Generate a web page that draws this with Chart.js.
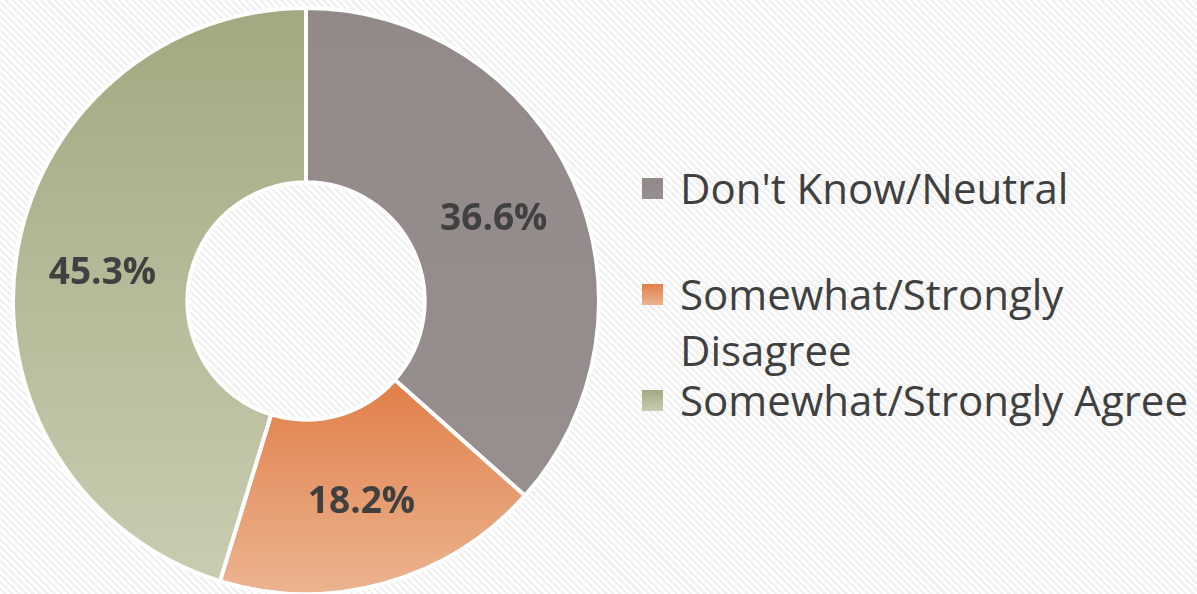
<!DOCTYPE html>
<html>
<head>
<meta charset="utf-8">
<script src="https://cdn.jsdelivr.net/npm/chart.js@4.4.1/dist/chart.umd.min.js"></script>
<style>
  html, body {
    margin: 0;
    padding: 0;
    width: 1197px;
    height: 594px;
    overflow: hidden;
    background: repeating-linear-gradient(45deg, #ffffff 0px, #ffffff 2.5px, #f1f1f1 2.5px, #f1f1f1 5px);
  }
  #chartBox {
    position: absolute;
    left: 11px;
    top: 6px;
    width: 590px;
    height: 590px;
  }
  #legend {
    position: absolute;
    left: 642px;
    top: 160px;
    width: 555px;
    font-family: "Open Sans", sans-serif;
    font-size: 42px;
    line-height: 56px;
    color: #404040;
  }
  .item {
    position: relative;
    padding-left: 38px;
  }
  .item:nth-child(1) { margin-bottom: 50px; }
  .item:nth-child(2) { margin-bottom: -6px; }
  .swatch {
    position: absolute;
    left: 0;
    top: 18px;
    width: 21px;
    height: 21px;
  }
  .text { display: block; width: 525px; }
</style>
</head>
<body>
<div id="chartBox"><canvas id="donut"></canvas></div>
<div id="legend"></div>
<script>
const categories = ["Don't Know/Neutral", 'Somewhat/Strongly Disagree', 'Somewhat/Strongly Agree'];
const shares = [36.6, 18.2, 45.3];
const pctLabels = ['36.6%', '18.2%', '45.3%'];

// top and bottom colour of each slice's vertical fill
const shadeTop = ['#938989', '#e07f48', '#a3a880'];
const shadeBottom = ['#978e8e', '#ecb491', '#c9ccb1'];

const segmentShade = {
  id: 'segmentShade',
  beforeDatasetsDraw(chart) {
    const ctx = chart.ctx;
    chart.getDatasetMeta(0).data.forEach((arc, i) => {
      const p = arc.getProps(['x', 'y', 'startAngle', 'endAngle', 'innerRadius', 'outerRadius']);
      let top = Infinity, bottom = -Infinity;
      for (let k = 0; k <= 60; k++) {
        const a = p.startAngle + (p.endAngle - p.startAngle) * k / 60;
        [p.innerRadius, p.outerRadius].forEach(r => {
          const py = p.y + Math.sin(a) * r;
          top = Math.min(top, py);
          bottom = Math.max(bottom, py);
        });
      }
      const g = ctx.createLinearGradient(0, top, 0, bottom);
      g.addColorStop(0, shadeTop[i]);
      g.addColorStop(1, shadeBottom[i]);
      arc.options.backgroundColor = g;
    });
  }
};

const sliceLabels = {
  id: 'sliceLabels',
  afterDatasetsDraw(chart) {
    const ctx = chart.ctx;
    ctx.save();
    ctx.font = 'bold 37px "Open Sans", sans-serif';
    ctx.fillStyle = '#404040';
    ctx.textAlign = 'center';
    ctx.textBaseline = 'middle';
    chart.getDatasetMeta(0).data.forEach((arc, i) => {
      const pos = arc.tooltipPosition();
      ctx.fillText(pctLabels[i], pos.x, pos.y + 3);
    });
    ctx.restore();
  }
};

new Chart(document.getElementById('donut'), {
  type: 'doughnut',
  data: {
    labels: categories,
    datasets: [{
      data: shares,
      backgroundColor: ctx => shadeTop[ctx.dataIndex],
      borderColor: '#ffffff',
      borderWidth: 4
    }]
  },
  options: {
    responsive: true,
    maintainAspectRatio: false,
    animation: false,
    cutout: '40.5%',
    layout: { padding: 0 },
    plugins: {
      legend: { display: false },
      tooltip: { enabled: false }
    }
  },
  plugins: [segmentShade, sliceLabels]
});

const legend = document.getElementById('legend');
categories.forEach((name, i) => {
  const item = document.createElement('div');
  item.className = 'item';
  item.innerHTML = `<span class="swatch" style="background: linear-gradient(${shadeTop[i]}, ${shadeBottom[i]})"></span><span class="text">${name}</span>`;
  legend.appendChild(item);
});
</script>
</body>
</html>
